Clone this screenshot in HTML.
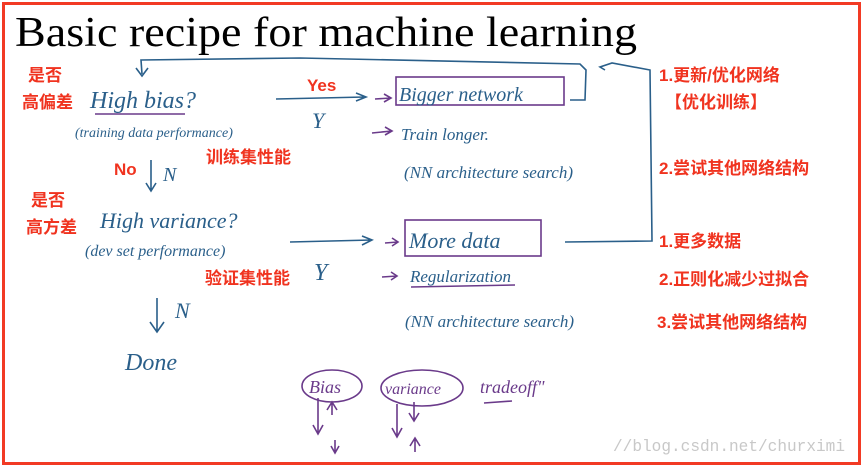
<!DOCTYPE html>
<html><head><meta charset="utf-8"><style>
html,body{margin:0;padding:0;background:#fff;}
svg{display:block;}
.t{font-family:"Liberation Serif",serif;}
.h{font-family:"Liberation Serif",serif;font-style:italic;fill:#2a5f8a;}
.p{font-family:"Liberation Serif",serif;font-style:italic;fill:#6a3a8a;}
.r{font-family:"Liberation Sans","Noto Sans CJK SC",sans-serif;font-weight:bold;fill:#f0331f;font-size:17px;}
</style></head><body>
<svg width="864" height="467" viewBox="0 0 864 467">
<rect x="3.5" y="3.5" width="856" height="460" fill="#fff" stroke="#f23a24" stroke-width="3"/>
<text class="t" x="15" y="46" font-size="42" textLength="622" lengthAdjust="spacingAndGlyphs">Basic recipe for machine learning</text>
<g fill="none" stroke="#2a5f8a" stroke-width="1.6">
<path d="M142 74 L141 60 L300 58 L580 64 L586 70 L585 100 L570 100"/>
<path d="M136 68 L142 76 L148 68"/>
<path d="M605 70 L600 67 L612 63 L650 70 L652 241 L565 242"/>
<path d="M276 99 L365 97 M356 93 L366 97 L356 101"/>
<path d="M290 242 L372 240 M362 236 L372 240 L362 245"/>
<path d="M151 160 L151 190 M146 183 L151 191 L156 183"/>
<path d="M157 298 L157 331 M150 322 L157 332 L164 322"/>
<path d="M95 114 L185 114" stroke="#6a3a8a"/>
</g>
<g fill="none" stroke="#6a3a8a" stroke-width="1.6">
<rect x="396" y="77" width="168" height="28"/>
<rect x="405" y="220" width="136" height="36"/>
<path d="M375 99 L391 98 M384 94 L391 98 L384 102"/>
<path d="M372 133 L392 131 M385 127 L392 131 L385 135"/>
<path d="M385 243 L398 242 M392 238 L398 242 L392 246"/>
<path d="M382 277 L397 276 M391 272 L397 276 L391 280"/>
<path d="M411 287 L515 285"/>
<ellipse cx="332" cy="386" rx="30" ry="16"/>
<ellipse cx="422" cy="388" rx="41" ry="18"/>
<path d="M318 398 L318 433 M313 425 L318 434 L323 425"/>
<path d="M332 415 L332 402 M327 410 L332 402 L337 410"/>
<path d="M335 440 L335 452 M331 446 L335 453 L339 446"/>
<path d="M397 404 L397 436 M392 428 L397 437 L402 428"/>
<path d="M414 402 L414 420 M409 413 L414 421 L419 413"/>
<path d="M415 452 L415 438 M410 446 L415 438 L420 446"/>
<path d="M484 403 L512 401"/>
</g>
<text class="h" x="90" y="108" font-size="24">High  bias?</text>
<text class="h" x="75" y="137" font-size="14">(training data performance)</text>
<text class="h" x="163" y="181" font-size="20">N</text>
<text class="h" x="100" y="228" font-size="22">High  variance?</text>
<text class="h" x="85" y="256" font-size="16">(dev set  performance)</text>
<text class="h" x="175" y="318" font-size="22">N</text>
<text class="h" x="125" y="370" font-size="24">Done</text>
<text class="h" x="312" y="128" font-size="22">Y</text>
<text class="h" x="314" y="280" font-size="24">Y</text>
<text class="h" x="399" y="101" font-size="20">Bigger  network</text>
<text class="h" x="401" y="140" font-size="17">Train  longer.</text>
<text class="h" x="404" y="178" font-size="17">(NN architecture search)</text>
<text class="h" x="409" y="248" font-size="22">More  data</text>
<text class="h" x="410" y="282" font-size="17">Regularization</text>
<text class="h" x="405" y="327" font-size="17">(NN architecture search)</text>
<text class="p" x="309" y="393" font-size="18">Bias</text>
<text class="p" x="385" y="394" font-size="16">variance</text>
<text class="p" x="480" y="393" font-size="18">tradeoff"</text>
<text class="r" x="28" y="81">是否</text>
<text class="r" x="22" y="108">高偏差</text>
<text class="r" x="307" y="91">Yes</text>
<text class="r" x="206" y="163">训练集性能</text>
<text class="r" x="114" y="175">No</text>
<text class="r" x="31" y="206">是否</text>
<text class="r" x="26" y="233">高方差</text>
<text class="r" x="205" y="284">验证集性能</text>
<text class="r" x="659" y="81">1.更新/优化网络</text>
<text class="r" x="665" y="108">【优化训练】</text>
<text class="r" x="659" y="174">2.尝试其他网络结构</text>
<text class="r" x="659" y="247">1.更多数据</text>
<text class="r" x="659" y="285">2.正则化减少过拟合</text>
<text class="r" x="657" y="328">3.尝试其他网络结构</text>
<text x="613" y="451" font-family="Liberation Mono,monospace" font-size="17" fill="#c8c8c8" textLength="232" lengthAdjust="spacingAndGlyphs">//blog.csdn.net/churximi</text>
</svg>
</body></html>
